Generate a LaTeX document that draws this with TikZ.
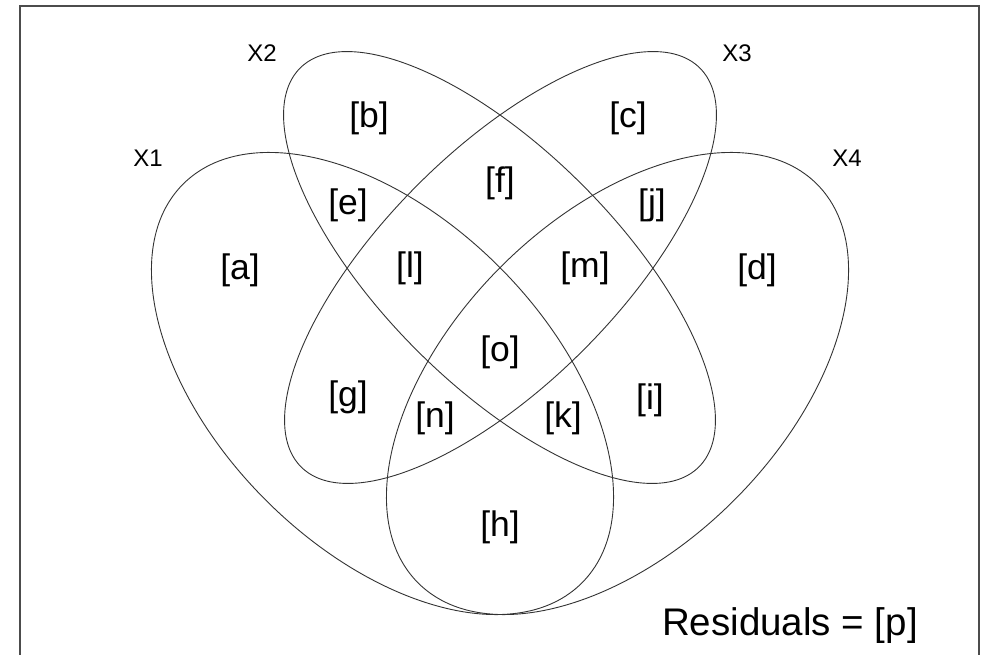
\documentclass[tikz,border=0pt]{standalone}
\usepackage{fontspec}
\setmainfont{Liberation Sans}

\begin{document}
\begin{tikzpicture}[x=1pt, y=-1pt,
  setline/.style={draw=black!80, line width=0.9pt},
  part/.style={font=\fontsize{35.5}{40}\selectfont, inner sep=0pt},
  setname/.style={font=\fontsize{24}{28}\selectfont, inner sep=0pt},
]
\useasboundingbox (0,0) rectangle (991,655);

% plot frame (open at the bottom edge of the image)
\draw[line width=1.5pt, black!70] (20,6) rectangle (979,700);

% centres of the four sets
\coordinate (cA) at (382.5,383.5);
\coordinate (cB) at (499.5,267.5);
\coordinate (cC) at (500.5,267.5);
\coordinate (cD) at (617.5,383.5);

% the four sets
\draw[setline, rotate around={-45:(cA)}] (cA) ellipse [x radius=282pt, y radius=165pt];
\draw[setline, rotate around={-45:(cB)}] (cB) ellipse [x radius=282pt, y radius=117pt];
\draw[setline, rotate around={45:(cC)}] (cC) ellipse [x radius=282pt, y radius=117pt];
\draw[setline, rotate around={45:(cD)}] (cD) ellipse [x radius=282pt, y radius=165pt];

% set names
\node[setname] (X1) at (148,158) {X1};
\node[setname] (X2) at (262,53) {X2};
\node[setname] (X3) at (737,53) {X3};
\node[setname] (X4) at (847,158) {X4};

% fractions
\node[part] (pa) at (240,270) {[a]};
\node[part] (pb) at (369,118) {[b]};
\node[part] (pc) at (628,118) {[c]};
\node[part] (pd) at (757,270) {[d]};
\node[part] (pe) at (348,205) {[e]};
\node[part] (pf) at (500,183) {[f]};
\node[part] (pj) at (652,205) {[j]};
\node[part] (pl) at (410,268) {[l]};
\node[part] (pm) at (585,268) {[m]};
\node[part] (po) at (500,352) {[o]};
\node[part] (pg) at (348,397) {[g]};
\node[part] (pi) at (650,400) {[i]};
\node[part] (pn) at (435,418) {[n]};
\node[part] (pk) at (563,418) {[k]};
\node[part] (ph) at (500,527) {[h]};

% unexplained part
\node[part, font=\fontsize{38.5}{44}\selectfont, anchor=east] (resid) at (918,626) {Residuals = [p]};

\end{tikzpicture}
\end{document}
